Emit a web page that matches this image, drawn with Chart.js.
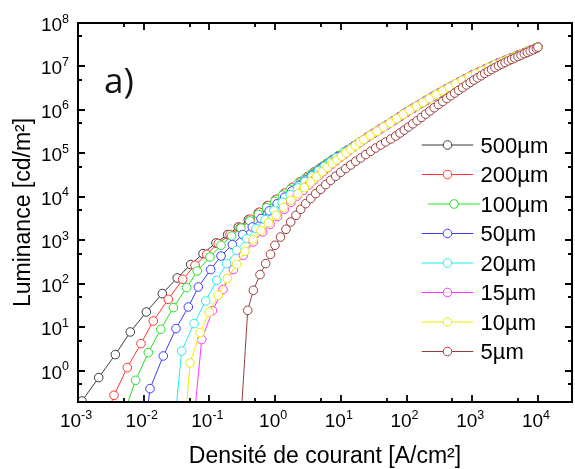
<!DOCTYPE html>
<html>
<head>
<meta charset="utf-8">
<script src="https://cdn.jsdelivr.net/npm/chart.js@4.4.0/dist/chart.umd.min.js"></script>
<style>
html,body{margin:0;padding:0;background:#fff;}
#wrap{width:575px;height:469px;position:relative;}
</style>
</head>
<body>
<div id="wrap"><canvas id="c" width="575" height="469"></canvas></div>
<script>
// ---------- data ----------
const seriesLabels = ['500µm', '200µm', '100µm', '50µm', '20µm', '15µm', '10µm', '5µm'];
const seriesColors = ['#3a3a3a', '#ff3333', '#22e022', '#3d3dff', '#22ecec', '#ff33ff', '#ecec00', '#9a3c3c'];

const current500 = [0.001151, 0.002065, 0.003698, 0.006252, 0.01096, 0.01919, 0.03243, 0.05188, 0.07998, 0.1259, 0.1901, 0.2754, 0.3908, 0.5546, 0.7586, 1.023, 1.365, 1.799, 2.344, 3.020, 3.846, 4.842, 6.026, 7.413, 9.016, 11.22, 14.13, 17.78, 22.39, 28.18, 35.48, 44.67, 56.23, 70.79, 89.13, 112.2, 141.3, 177.8, 223.9, 281.8, 354.8, 446.7, 562.3, 707.9, 891.3, 1122, 1413, 1778, 2239, 2818, 3548, 4467, 5623, 7079, 8913, 10000];
const lum500 = [0.2042, 0.7047, 2.382, 7.889, 22.70, 60.12, 137.4, 279.3, 500.0, 877.0, 1368, 2042, 3020, 4365, 6281, 8730, 11995, 16255, 21730, 28440, 36640, 46240, 57540, 70790, 86100, 106400, 132400, 166000, 208900, 261200, 325100, 404600, 503500, 631000, 794300, 988600, 1.216e6, 1.496e6, 1.841e6, 2.249e6, 2.735e6, 3.311e6, 3.981e6, 4.786e6, 5.754e6, 6.839e6, 8.035e6, 9.441e6, 1.109e7, 1.288e7, 1.479e7, 1.698e7, 1.950e7, 2.249e7, 2.600e7, 2.786e7];

const current200 = [0.002239, 0.003532, 0.005623, 0.009099, 0.01400, 0.02366, 0.03926, 0.06039, 0.09099, 0.1365, 0.2061, 0.2951, 0.4169, 0.5754, 0.7852, 1.059, 1.413, 1.862, 2.427, 3.126, 3.981, 5.012, 6.237, 7.674, 9.333, 12.59, 15.85, 19.95, 25.12, 31.62, 39.81, 50.12, 63.10, 79.43, 100, 125.9, 158.5, 199.5, 251.2, 316.2, 398.1, 501.2, 631.0, 794.3, 1000, 1259, 1585, 1995, 2512, 3162, 3981, 5012, 6310, 7943, 10000];
const lum200 = [0.03899, 0.2761, 1.197, 4.266, 14.09, 44.46, 128.2, 269.2, 482.0, 849.2, 1368, 1995, 3090, 4467, 6383, 8913, 12300, 16790, 22490, 29510, 38020, 47860, 59570, 73280, 89130, 118900, 147900, 186200, 234400, 291700, 363100, 451900, 562300, 707900, 891300, 1.096e6, 1.349e6, 1.660e6, 2.042e6, 2.483e6, 3.020e6, 3.631e6, 4.365e6, 5.248e6, 6.310e6, 7.413e6, 8.710e6, 1.023e7, 1.202e7, 1.380e7, 1.585e7, 1.820e7, 2.089e7, 2.427e7, 2.786e7];

const current100 = [0.004842, 0.007551, 0.01175, 0.01816, 0.02825, 0.04508, 0.06546, 0.1021, 0.1503, 0.2183, 0.3020, 0.4121, 0.5559, 0.7413, 0.9886, 1.303, 1.698, 2.188, 2.786, 3.508, 4.365, 5.370, 6.531, 7.852, 9.333, 11.22, 14.13, 17.78, 22.39, 28.18, 35.48, 44.67, 56.23, 70.79, 89.13, 112.2, 141.3, 177.8, 223.9, 281.8, 354.8, 446.7, 562.3, 707.9, 891.3, 1122, 1413, 1778, 2239, 2818, 3548, 4467, 5623, 7079, 8913, 10000];
const lum100 = [0.0910, 0.6109, 2.649, 9.099, 28.64, 82.60, 199.1, 417.8, 776.2, 1268, 1928, 2818, 3981, 5689, 7943, 10960, 14790, 19720, 25700, 32890, 41400, 51050, 62370, 74990, 89130, 106400, 132400, 166000, 208900, 261200, 325100, 404600, 503500, 631000, 794300, 988600, 1.216e6, 1.496e6, 1.841e6, 2.249e6, 2.735e6, 3.311e6, 3.981e6, 4.786e6, 5.754e6, 6.839e6, 8.035e6, 9.441e6, 1.109e7, 1.288e7, 1.479e7, 1.698e7, 1.950e7, 2.249e7, 2.600e7, 2.786e7];

const current50 = [0.008790, 0.01247, 0.01986, 0.03105, 0.04775, 0.06776, 0.1047, 0.1503, 0.2234, 0.3214, 0.4498, 0.6095, 0.8128, 1.072, 1.396, 1.799, 2.291, 2.884, 3.589, 4.416, 5.370, 6.457, 7.674, 9.016, 12.59, 15.85, 19.95, 25.12, 31.62, 39.81, 50.12, 63.10, 79.43, 100, 125.9, 158.5, 199.5, 251.2, 316.2, 398.1, 501.2, 631.0, 794.3, 1000, 1259, 1585, 1995, 2512, 3162, 3981, 5012, 6310, 7943, 10000];
const lum50 = [0.005212, 0.3936, 2.213, 9.441, 29.58, 85.31, 214.3, 440.6, 805.4, 1368, 2042, 3199, 4786, 6966, 9886, 13680, 18450, 24430, 31410, 39810, 48980, 59570, 71610, 85110, 118900, 147900, 186200, 234400, 291700, 363100, 451900, 562300, 707900, 891300, 1.096e6, 1.349e6, 1.660e6, 2.042e6, 2.483e6, 3.020e6, 3.631e6, 4.365e6, 5.248e6, 6.310e6, 7.413e6, 8.710e6, 1.023e7, 1.202e7, 1.380e7, 1.585e7, 1.820e7, 2.089e7, 2.427e7, 2.786e7];

const current20 = [0.02698, 0.03784, 0.05834, 0.08790, 0.1291, 0.1832, 0.2606, 0.3698, 0.5117, 0.7015, 0.9616, 1.288, 1.698, 2.213, 2.851, 3.631, 4.571, 5.689, 6.998, 8.511, 11.22, 14.13, 17.78, 22.39, 28.18, 35.48, 44.67, 56.23, 70.79, 89.13, 112.2, 141.3, 177.8, 223.9, 281.8, 354.8, 446.7, 562.3, 707.9, 891.3, 1122, 1413, 1778, 2239, 2818, 3548, 4467, 5623, 7079, 8913, 10000];
const lum20 = [0.01503, 2.884, 12.30, 40.64, 121.6, 294.4, 595.7, 1107, 1879, 3020, 4943, 7586, 11300, 16220, 22540, 30410, 39810, 50700, 63830, 79430, 106400, 132400, 166000, 208900, 261200, 325100, 404600, 503500, 631000, 794300, 988600, 1.216e6, 1.496e6, 1.841e6, 2.249e6, 2.735e6, 3.311e6, 3.981e6, 4.786e6, 5.754e6, 6.839e6, 8.035e6, 9.441e6, 1.109e7, 1.288e7, 1.479e7, 1.698e7, 1.950e7, 2.249e7, 2.600e7, 2.786e7];

const current15 = [0.05433, 0.07638, 0.1114, 0.1611, 0.2312, 0.3281, 0.4656, 0.6471, 0.8414, 1.084, 1.380, 1.738, 2.163, 2.661, 3.236, 3.890, 4.624, 5.433, 6.310, 7.328, 8.511, 9.886, 11.48, 13.34, 15.49, 17.99, 21.38, 25.12, 31.62, 39.81, 50.12, 63.10, 79.43, 100, 125.9, 158.5, 199.5, 251.2, 316.2, 398.1, 501.2, 631.0, 794.3, 1000, 1259, 1585, 1995, 2512, 3162, 3981, 5012, 6310, 7943, 10000];
const lum15 = [0.02553, 5.272, 24.49, 74.82, 214.3, 457.1, 924.7, 1567, 2360, 3548, 5212, 7516, 10500, 14160, 18750, 24380, 30900, 38550, 47100, 56490, 67920, 81470, 97060, 115600, 137700, 164800, 199500, 234400, 291700, 363100, 451900, 562300, 707900, 891300, 1.096e6, 1.349e6, 1.660e6, 2.042e6, 2.483e6, 3.020e6, 3.631e6, 4.365e6, 5.248e6, 6.310e6, 7.413e6, 8.710e6, 1.023e7, 1.202e7, 1.380e7, 1.585e7, 1.820e7, 2.089e7, 2.427e7, 2.786e7];

const current10 = [0.03963, 0.05070, 0.07194, 0.09954, 0.1365, 0.1871, 0.2606, 0.3483, 0.4624, 0.6095, 0.7943, 1.035, 1.349, 1.738, 2.213, 2.786, 3.467, 4.266, 5.188, 6.237, 7.413, 8.710, 10.23, 12.02, 14.13, 16.60, 19.50, 22.39, 28.18, 35.48, 44.67, 56.23, 70.79, 89.13, 112.2, 141.3, 177.8, 223.9, 281.8, 354.8, 446.7, 562.3, 707.9, 891.3, 1122, 1413, 1778, 2239, 2818, 3548, 4467, 5623, 7079, 8913, 10000];
const lum10 = [0.01503, 1.528, 7.638, 22.70, 54.95, 133.0, 283.8, 564.9, 1042, 1687, 2553, 3819, 5715, 8395, 11910, 16410, 22130, 29310, 37930, 48190, 59160, 71610, 86700, 103900, 124700, 150300, 182000, 208900, 261200, 325100, 404600, 503500, 631000, 794300, 988600, 1.216e6, 1.496e6, 1.841e6, 2.249e6, 2.735e6, 3.311e6, 3.981e6, 4.786e6, 5.754e6, 6.839e6, 8.035e6, 9.441e6, 1.109e7, 1.288e7, 1.479e7, 1.698e7, 1.950e7, 2.249e7, 2.600e7, 2.786e7];

const current5 = [0.308, 0.383, 0.466, 0.589, 0.719, 0.851, 0.995, 1.208, 1.466, 1.726, 2.080, 2.455, 2.924, 3.483, 4.150, 4.943, 5.888, 7.015, 8.356, 9.954, 11.89, 14.16, 16.87, 20.09, 23.93, 28.51, 33.96, 40.46, 48.19, 57.54, 68.55, 79.60, 92.5, 107.4, 124.7, 144.9, 168.3, 195.4, 227.0, 263.6, 306.2, 355.6, 410.2, 471.0, 540.8, 620.9, 712.9, 818.5, 933.3, 1059, 1202, 1365, 1549, 1750, 1972, 2223, 2506, 2818, 3162, 3548, 3981, 4446, 4966, 5546, 6194, 6887, 7656, 8511, 9441, 10000];
const lum5 = [0.125, 24.8, 71.6, 164.4, 294.4, 482, 776, 1202, 1807, 2661, 3793, 5212, 7047, 9183, 11970, 15030, 19280, 24210, 29920, 36980, 44980, 54450, 66220, 78890, 94410, 112500, 133700, 156700, 183700, 215300, 252300, 295800, 346700, 407400, 481900, 570200, 676100, 803500, 952800, 1.130e6, 1.334e6, 1.570e6, 1.837e6, 2.123e6, 2.455e6, 2.838e6, 3.266e6, 3.767e6, 4.305e6, 4.875e6, 5.483e6, 6.166e6, 6.934e6, 7.709e6, 8.531e6, 9.441e6, 1.045e7, 1.138e7, 1.239e7, 1.346e7, 1.462e7, 1.574e7, 1.698e7, 1.828e7, 1.972e7, 2.113e7, 2.265e7, 2.427e7, 2.630e7, 2.786e7];

const xTickExponents = [-3, -2, -1, 0, 1, 2, 3, 4];
const yTickExponents = [0, 1, 2, 3, 4, 5, 6, 7, 8];
const xAxisTitle = 'Densité de courant [A/cm²]';
const yAxisTitle = 'Luminance [cd/m²]';
const panelLabel = 'a)';

// ---------- chart ----------
const seriesCurrent = [current500, current200, current100, current50, current20, current15, current10, current5];
const seriesLum = [lum500, lum200, lum100, lum50, lum20, lum15, lum10, lum5];

const datasets = seriesLabels.map((label, i) => ({
  label: label,
  data: seriesCurrent[i].map((c, j) => ({ x: c, y: seriesLum[i][j] })),
  borderColor: seriesColors[i],
  backgroundColor: '#ffffff',
  borderWidth: 1,
  pointStyle: 'circle',
  pointRadius: 4.3,
  pointBorderWidth: 1,
  pointBorderColor: seriesColors[i],
  pointBackgroundColor: '#ffffff',
  tension: 0,
  fill: false,
  clip: 0,
  order: seriesLabels.length - i
}));

const FAMILY = '"Liberation Sans", Arial, sans-serif';
const MAIN_FONT = '19px ' + FAMILY;
const SUP_FONT = '12.5px ' + FAMILY;

function drawPower(ctx, exp, x, baseline, align) {
  const base = '10';
  const sup = String(exp);
  ctx.font = MAIN_FONT;
  const w1 = ctx.measureText(base).width;
  ctx.font = SUP_FONT;
  const w2 = ctx.measureText(sup).width;
  const x0 = align === 'center' ? x - (w1 + w2) / 2 : x - (w1 + w2);
  ctx.textAlign = 'left';
  ctx.textBaseline = 'alphabetic';
  ctx.font = MAIN_FONT;
  ctx.fillText(base, x0, baseline);
  ctx.font = SUP_FONT;
  ctx.fillText(sup, x0 + w1, baseline - 8.5);
}

const plotDecor = {
  id: 'plotDecor',
  afterDraw(chart) {
    const ctx = chart.ctx;
    const a = chart.chartArea;
    const xs = chart.scales.x;
    const ys = chart.scales.y;
    ctx.save();
    // frame
    ctx.strokeStyle = '#000';
    ctx.lineWidth = 2;
    ctx.strokeRect(a.left, a.top, a.right - a.left, a.bottom - a.top);
    // ticks (inward)
    ctx.lineWidth = 1.8;
    ctx.beginPath();
    xTickExponents.forEach(k => {
      const p = Math.round(xs.getPixelForValue(Math.pow(10, k)));
      ctx.moveTo(p, a.bottom); ctx.lineTo(p, a.bottom - 7);
      ctx.moveTo(p, a.top); ctx.lineTo(p, a.top + 7);
      const mv = 5 * Math.pow(10, k);
      if (mv < xs.max) {
        const pm = Math.round(xs.getPixelForValue(mv));
        ctx.moveTo(pm, a.bottom); ctx.lineTo(pm, a.bottom - 4);
        ctx.moveTo(pm, a.top); ctx.lineTo(pm, a.top + 4);
      }
    });
    yTickExponents.forEach(k => {
      const p = Math.round(ys.getPixelForValue(Math.pow(10, k)));
      ctx.moveTo(a.left, p); ctx.lineTo(a.left + 7, p);
      ctx.moveTo(a.right, p); ctx.lineTo(a.right - 7, p);
      const mv = 5 * Math.pow(10, k - 1);
      if (mv > ys.min) {
        const pm = Math.round(ys.getPixelForValue(mv));
        ctx.moveTo(a.left, pm); ctx.lineTo(a.left + 4, pm);
        ctx.moveTo(a.right, pm); ctx.lineTo(a.right - 4, pm);
      }
    });
    ctx.stroke();
    // tick labels
    ctx.fillStyle = '#000';
    xTickExponents.forEach(k => {
      const p = xs.getPixelForValue(Math.pow(10, k));
      drawPower(ctx, k, p - 2, a.bottom + 25, 'center');
    });
    yTickExponents.forEach(k => {
      const p = ys.getPixelForValue(Math.pow(10, k));
      drawPower(ctx, k, a.left - 9, p + 8, 'right');
    });
    // panel label
    ctx.font = '35px "Open Sans", sans-serif';
    ctx.fillStyle = '#111';
    ctx.textAlign = 'left';
    ctx.textBaseline = 'alphabetic';
    ctx.fillText(panelLabel, 104, 93);
    // legend
    const rowTop = 145, rowStep = 29.5;
    chart.data.datasets.forEach((ds, i) => {
      const yRow = rowTop + i * rowStep;
      const shift = i === 2 ? 6.5 : 0;
      const x1 = 421.7 + shift, x2 = 473.3 + shift;
      ctx.strokeStyle = ds.borderColor;
      ctx.lineWidth = 1;
      ctx.beginPath();
      ctx.moveTo(x1, yRow); ctx.lineTo(x2, yRow);
      ctx.stroke();
      ctx.beginPath();
      ctx.arc((x1 + x2) / 2, yRow, 4.3, 0, Math.PI * 2);
      ctx.fillStyle = '#fff';
      ctx.fill();
      ctx.stroke();
      ctx.fillStyle = '#000';
      ctx.font = '22px ' + FAMILY;
      ctx.fillText(ds.label, 480.5, yRow + 7.8);
    });
    ctx.restore();
  }
};

new Chart(document.getElementById('c'), {
  type: 'line',
  data: { datasets: datasets },
  options: {
    responsive: false,
    animation: false,
    events: [],
    layout: { padding: { top: 23, right: 3, bottom: 0, left: 0 }, autoPadding: false },
    plugins: { legend: { display: false }, tooltip: { enabled: false }, title: { display: false } },
    scales: {
      x: {
        type: 'logarithmic', position: 'bottom', min: 1e-3, max: 3.3e4,
        grid: { display: false }, border: { display: false },
        ticks: { display: false },
        title: { display: true, text: xAxisTitle, color: '#000',
          font: { family: FAMILY, size: 23, lineHeight: 1 },
          padding: { top: 0, bottom: 0.5 } },
        afterFit: s => { s.height = 67; }
      },
      y: {
        type: 'logarithmic', position: 'left', min: 0.1936, max: 1e8,
        grid: { display: false }, border: { display: false },
        ticks: { display: false },
        title: { display: true, text: yAxisTitle, color: '#000',
          font: { family: FAMILY, size: 23, lineHeight: 1 },
          padding: { top: 12, bottom: 0 } },
        afterFit: s => { s.width = 78; }
      }
    }
  },
  plugins: [plotDecor]
});
</script>
</body>
</html>
